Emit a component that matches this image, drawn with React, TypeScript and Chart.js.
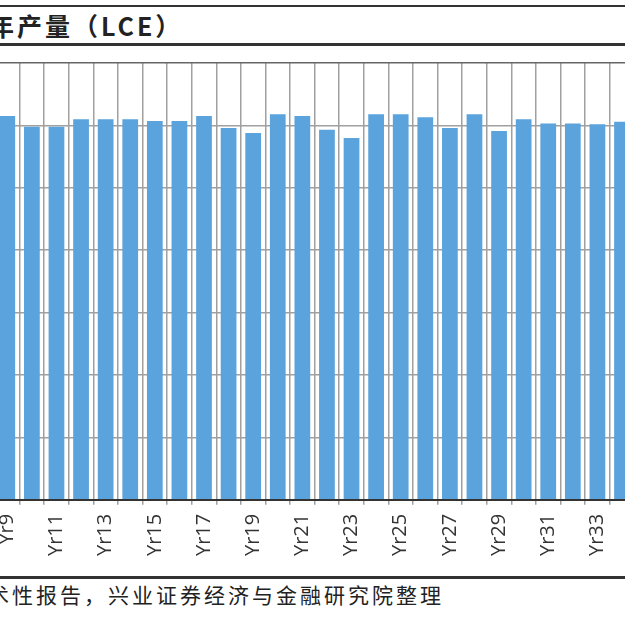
import { useEffect, useRef } from 'react';
import Chart from 'chart.js/auto';

// 年份（截图中可见部分）
const years = [
  'Yr9', 'Yr10', 'Yr11', 'Yr12', 'Yr13', 'Yr14', 'Yr15', 'Yr16', 'Yr17',
  'Yr18', 'Yr19', 'Yr20', 'Yr21', 'Yr22', 'Yr23', 'Yr24', 'Yr25', 'Yr26',
  'Yr27', 'Yr28', 'Yr29', 'Yr30', 'Yr31', 'Yr32', 'Yr33', 'Yr34',
];

// 年产量（LCE）
const output = [
  30.75, 29.9, 29.9, 30.5, 30.5, 30.5, 30.35, 30.35, 30.75,
  29.8, 29.4, 30.9, 30.75, 29.65, 29.0, 30.9, 30.9, 30.65,
  29.8, 30.9, 29.55, 30.5, 30.15, 30.15, 30.1, 30.3,
];

const yMax = 35;
const yStep = 5;

const title = '年产量（LCE）';
const source = '术性报告，兴业证券经济与金融研究院整理';

const rule = (top: number, h: number): React.CSSProperties => ({
  position: 'absolute',
  left: 0,
  right: 0,
  top,
  height: h,
  background: '#333',
});

const App: React.FC = () => {
  const chartRef = useRef<HTMLCanvasElement>(null);

  useEffect(() => {
    if (!chartRef.current) return;

    const chart = new Chart(chartRef.current, {
      type: 'bar',
      data: {
        labels: years,
        datasets: [
          {
            label: '年产量',
            data: output,
            backgroundColor: '#5aa3dc',
            borderWidth: 0,
            categoryPercentage: 1,
            barPercentage: 0.64,
          },
        ],
      },
      options: {
        responsive: true,
        maintainAspectRatio: false,
        animation: false,
        layout: { padding: { top: 2, left: 0, right: 0, bottom: 0 } },
        plugins: {
          legend: { display: false },
          tooltip: { enabled: false },
        },
        scales: {
          x: {
            grid: {
              offset: true,
              color: '#a0a0a0',
              lineWidth: 1.5,
              tickLength: 5,
            },
            border: { color: '#333', width: 2 },
            ticks: {
              autoSkip: false,
              minRotation: 90,
              maxRotation: 90,
              padding: 9,
              color: '#333',
              font: { family: '"Open Sans", sans-serif', size: 20 },
              callback: (_v, i) => (i % 2 === 0 ? years[i] : ''),
            },
          },
          y: {
            min: 0,
            max: yMax,
            grid: {
              color: (ctx) => (ctx.tick && ctx.tick.value === yMax ? '#666' : '#a0a0a0'),
              lineWidth: 1.5,
              drawTicks: false,
            },
            border: { display: false },
            ticks: { display: false, stepSize: yStep },
          },
        },
      },
    });

    return () => {
      chart.destroy();
    };
  }, []);

  return (
    <div
      style={{
        position: 'fixed',
        left: 0,
        top: 0,
        width: 625,
        height: 624,
        overflow: 'hidden',
        background: '#fff',
      }}
    >
      <div style={rule(5, 2)} />
      <div
        style={{
          position: 'absolute',
          left: -11,
          top: 7,
          fontFamily: '"Noto Sans CJK SC", sans-serif',
          fontWeight: 700,
          fontSize: 25,
          lineHeight: '36px',
          letterSpacing: 3,
          color: '#222',
          whiteSpace: 'nowrap',
        }}
      >
        {title}
      </div>
      <div style={rule(43, 3)} />

      <div style={{ position: 'absolute', left: -5.3, top: 61, width: 660, height: 504 }}>
        <canvas ref={chartRef} />
      </div>

      <div style={rule(576, 3)} />
      <div
        style={{
          position: 'absolute',
          left: -12,
          top: 580,
          fontFamily: '"Noto Sans CJK SC", sans-serif',
          fontSize: 21,
          lineHeight: '28px',
          letterSpacing: 3,
          color: '#222',
          whiteSpace: 'nowrap',
        }}
      >
        {source}
      </div>
    </div>
  );
};

export default App;
